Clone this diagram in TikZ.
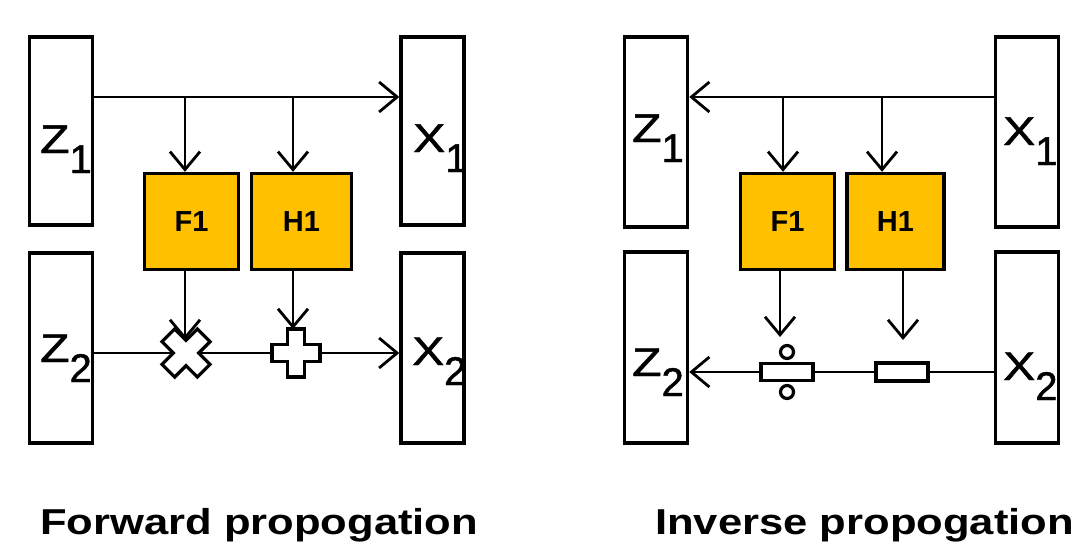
\documentclass[tikz,border=0pt]{standalone}
\usepackage{fontspec}
\setmainfont{Liberation Sans}
\newfontfamily\lblfont[FakeBold=1.2]{Liberation Sans}
\usetikzlibrary{arrows.meta}
\definecolor{boxorange}{HTML}{FFC000}
\tikzset{
  bar/.style={draw, line width=3.4pt, minimum width=63pt, minimum height=188pt, inner sep=0pt},
  fbox/.style={draw, line width=3.4pt, fill=boxorange, minimum width=94pt, minimum height=96pt, inner sep=0pt, font=\fontsize{29}{29}\selectfont\bfseries},
  arr/.style={line width=2.8pt, -{Straight Barb[length=18pt,width=30pt,line width=2.8pt]}},
  opshape/.style={draw, line width=3.2pt, fill=white, line join=miter},
  lbl/.style={inner sep=0pt, anchor=base west, font=\fontsize{40}{40}\lblfont},
  title/.style={inner sep=0pt, anchor=base west, font=\fontsize{36}{36}\selectfont\bfseries},
  opnode/.style={inner sep=0pt, minimum size=2pt}
}
\newcommand{\varlbl}[2]{\scalebox{1.2}[1]{#1}\raisebox{-20pt}{#2}}
\newcommand{\widetext}[1]{\scalebox{1.21}[1]{#1}}
\begin{document}
\begin{tikzpicture}[x=1pt,y=-1pt]
\useasboundingbox (0,0) rectangle (1075,549);
% ---------- Forward propagation ----------
\node[bar] (Z1) at (61,131) {};
\node[bar, minimum height=190pt] (Z2) at (61,348) {};
\node[bar] (X1) at (432.5,131) {};
\node[bar, minimum height=190pt] (X2) at (432.5,348) {};
\node[fbox] (F1) at (191.5,221.5) {F1};
\node[fbox, minimum width=100pt] (H1) at (301.5,221.5) {H1};
\node[lbl] (z1t) at (40,153) {\varlbl{Z}{1}};
\node[lbl] (z2t) at (40,362) {\varlbl{Z}{2}};
\node[lbl] (x1t) at (413,152) {\varlbl{X}{1}};
\node[lbl] (x2t) at (412,365) {\varlbl{X}{2}};
\coordinate (ft) at (0,97);
\coordinate (fl) at (0,353);
\coordinate (fa) at (185,0);
\coordinate (fb) at (293,0);
\node[opnode] (mul) at (186,353) {};
\node[opnode] (add) at (296,353) {};
\coordinate (multop) at (185,340);
\coordinate (addtop) at (293,329);
\draw[arr] (Z1.east |- ft) -- (X1.west |- ft);
\draw[arr] (fa |- ft) -- (F1.north -| fa);
\draw[arr] (fb |- ft) -- (H1.north -| fb);
\draw[arr] (F1.south -| fa) -- (multop);
\draw[arr] (H1.south -| fb) -- (addtop);
\draw[arr] (Z2.east |- fl) -- (X2.west |- fl);
\draw[opshape, shift={(mul)}, rotate=45]
  (-9,-25) -- (9,-25) -- (9,-9) -- (25,-9) -- (25,9) -- (9,9) -- (9,25) -- (-9,25) -- (-9,9) -- (-25,9) -- (-25,-9) -- (-9,-9) -- cycle;
\draw[opshape, shift={(add)}]
  (-8.5,-24) -- (8.5,-24) -- (8.5,-8.5) -- (24,-8.5) -- (24,8.5) -- (8.5,8.5) -- (8.5,24) -- (-8.5,24) -- (-8.5,8.5) -- (-24,8.5) -- (-24,-8.5) -- (-8.5,-8.5) -- cycle;
\node[title] (ftitle) at (40,534) {\widetext{Forward propogation}};
% ---------- Inverse propagation ----------
\node[bar, minimum height=190pt] (RZ1) at (656,132) {};
\node[bar, minimum height=191pt] (RZ2) at (656,347.5) {};
\node[bar, minimum height=190pt] (RX1) at (1027,132) {};
\node[bar, minimum height=191pt] (RX2) at (1027,347.5) {};
\node[fbox] (RF1) at (787.5,221.5) {F1};
\node[fbox, minimum width=97pt] (RH1) at (895.5,221.5) {H1};
\node[lbl] (rz1t) at (632,142) {\varlbl{Z}{1}};
\node[lbl] (rz2t) at (632,376) {\varlbl{Z}{2}};
\node[lbl] (rx1t) at (1003,145) {\varlbl{X}{1}};
\node[lbl] (rx2t) at (1003,380) {\varlbl{X}{2}};
\coordinate (rt) at (0,97);
\coordinate (rl) at (0,372);
\coordinate (ra) at (783,0);
\coordinate (rb) at (882,0);
\coordinate (rc) at (780,0);
\coordinate (rd) at (903,0);
\node[opnode] (div) at (787,372) {};
\node[opnode] (sub) at (902,372) {};
\coordinate (divtop) at (780,337);
\coordinate (subtop) at (903,340);
\draw[arr] (RX1.west |- rt) -- (RZ1.east |- rt);
\draw[arr] (ra |- rt) -- (RF1.north -| ra);
\draw[arr] (rb |- rt) -- (RH1.north -| rb);
\draw[arr] (RF1.south -| rc) -- (divtop);
\draw[arr] (RH1.south -| rd) -- (subtop);
\draw[arr] (RX2.west |- rl) -- (RZ2.east |- rl);
\draw[opshape, shift={(div)}] (-26,-8.5) rectangle (26,8.5);
\draw[opshape, shift={(div)}] (0,-20) circle[radius=6.5];
\draw[opshape, shift={(div)}] (0,20) circle[radius=6.5];
\draw[opshape, shift={(sub)}] (-26,-9) rectangle (26,9);
\node[title] (rtitle) at (655,534) {\widetext{Inverse propogation}};
\end{tikzpicture}
\end{document}
